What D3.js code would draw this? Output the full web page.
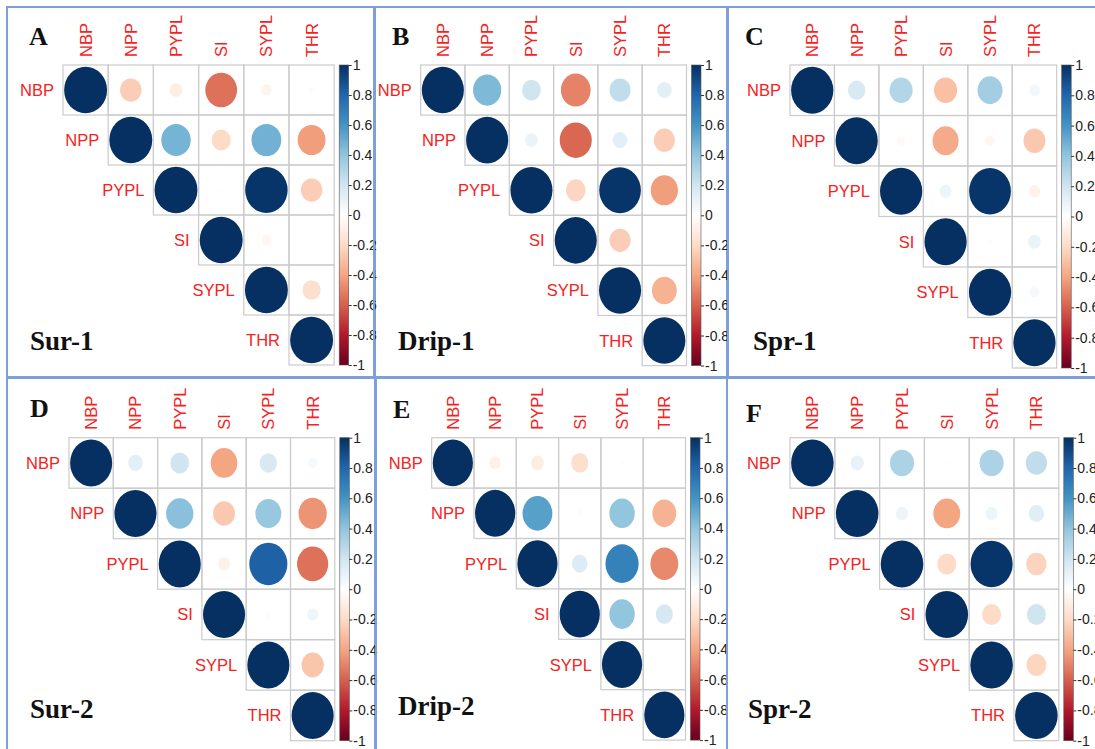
<!DOCTYPE html>
<meta charset="utf-8">
<title>Correlation panels</title>
<style>
body { margin: 0; background: #fff; }
svg { display: block; }
.lab { font-family: "Liberation Sans", Arial, sans-serif; font-size: 16.5px; fill: #f52222; }
.letter, .title { font-family: "Liberation Serif", "Times New Roman", serif; font-weight: bold; fill: #111; }
.letter { font-size: 26px; }
.title { font-size: 27px; }
.bar text { font-family: "Liberation Sans", Arial, sans-serif; font-size: 14px; fill: #222; }
.bar line { stroke: #333; }
</style>
<body>
<div id="chart"></div>
<script src="https://cdn.jsdelivr.net/npm/d3@7"></script>
<script>

// variables and colour legend ticks
var vars = ["NBP", "NPP", "PYPL", "SI", "SYPL", "THR"];
var legendTicks = [1, 0.8, 0.6, 0.4, 0.2, 0, -0.2, -0.4, -0.6, -0.8, -1];
var letters = ["A", "B", "C", "D", "E", "F"];
var titles = ["Sur-1", "Drip-1", "Spr-1", "Sur-2", "Drip-2", "Spr-2"];

// upper triangle, row by row:
// NBP-NPP, NBP-PYPL, NBP-SI, NBP-SYPL, NBP-THR, NPP-PYPL, NPP-SI, NPP-SYPL, NPP-THR,
// PYPL-SI, PYPL-SYPL, PYPL-THR, SI-SYPL, SI-THR, SYPL-THR
var sur1   = [-0.25, -0.09, -0.55, -0.06,  0.02,  0.47, -0.2,   0.48, -0.42, -0.01, 0.98, -0.25, -0.05, -0.01, -0.18];
var drip1  = [ 0.45,  0.2,  -0.5,   0.25,  0.12,  0.09, -0.58,  0.12, -0.25, -0.22, 0.98, -0.42, -0.25, -0.01, -0.35];
var spr1   = [ 0.17,  0.3,  -0.3,   0.35,  0.06, -0.04, -0.38, -0.05, -0.27,  0.08, 0.98, -0.07, -0.02,  0.09,  0.05];
var sur2   = [ 0.12,  0.2,  -0.4,   0.17,  0.05,  0.42, -0.27,  0.38, -0.45, -0.08, 0.82, -0.55,  0.02,  0.07, -0.28];
var drip2  = [-0.08, -0.1,  -0.18, -0.01,  0.01,  0.55, -0.02,  0.4,  -0.35,  0.15, 0.68, -0.48,  0.4,   0.18,  0.01];
var spr2   = [ 0.1,   0.32, -0.01,  0.32,  0.25,  0.08, -0.4,   0.08,  0.13, -0.2,  0.98, -0.23, -0.2,   0.2,  -0.22];
var series = [sur1, drip1, spr1, sur2, drip2, spr2];

var corrColors = ["#67001F", "#B2182B", "#D6604D", "#F4A582", "#FDDBC7", "#FFFFFF",
                  "#D1E5F0", "#92C5DE", "#4393C3", "#2166AC", "#053061"];

// panel geometry on the page
var layout = [
  {box: [7, 7, 368, 370],    gx: 63,    gy: 65,    cw: 45.2, ch: 50,   letter: [29, 45],   title: [30, 350]},
  {box: [374, 7, 353, 370],  gx: 420.7, gy: 65,    cw: 44.3, ch: 50.1, letter: [392, 45],  title: [398, 350]},
  {box: [728, 7, 380, 370],  gx: 790,   gy: 65,    cw: 44.45, ch: 50.5, letter: [745, 45], title: [753, 350]},
  {box: [7, 378, 368, 380],  gx: 69,    gy: 437.7, cw: 44.3, ch: 50.5, letter: [30, 417],  title: [30, 718]},
  {box: [376, 378, 351, 380], gx: 431.7, gy: 437.7, cw: 42.3, ch: 50.4, letter: [393, 418], title: [398, 715]},
  {box: [727, 378, 380, 380], gx: 790,   gy: 437.7, cw: 44.8, ch: 50.5, letter: [746, 422], title: [748, 718]}
];

var W = 1095, H = 749;
var svg = d3.select("#chart").append("svg").attr("width", W).attr("height", H);

var color = d3.scaleLinear()
  .domain(d3.range(11).map(function(i){ return -1 + i * 0.2; }))
  .range(corrColors);

var defs = svg.append("defs");
var grad = defs.append("linearGradient").attr("id", "cbar")
  .attr("x1", 0).attr("y1", 1).attr("x2", 0).attr("y2", 0);
grad.selectAll("stop").data(corrColors).join("stop")
  .attr("offset", function(d, i){ return i / 10; })
  .attr("stop-color", function(d){ return d; });

function toMatrix(vals){
  var cells = [], k = 0;
  vars.forEach(function(a, i){
    cells.push({row: a, col: a, r: 1});
    for (var j = i + 1; j < vars.length; j++) cells.push({row: a, col: vars[j], r: vals[k++]});
  });
  return cells;
}

layout.forEach(function(L, p){
  var g = svg.append("g");
  var n = vars.length;
  var x = d3.scaleBand().domain(vars).range([L.gx, L.gx + n * L.cw]);
  var y = d3.scaleBand().domain(vars).range([L.gy, L.gy + n * L.ch]);
  var rx = d3.scaleSqrt().domain([0, 1]).range([0, 0.475 * L.cw]);
  var ry = d3.scaleSqrt().domain([0, 1]).range([0, 0.465 * L.ch]);
  var cells = toMatrix(series[p]);

  g.append("rect")
    .attr("x", L.box[0]).attr("y", L.box[1]).attr("width", L.box[2]).attr("height", L.box[3])
    .attr("fill", "none").attr("stroke", "#7f9fda").attr("stroke-width", 2);

  g.selectAll("rect.cell").data(cells).join("rect").attr("class", "cell")
    .attr("x", function(d){ return x(d.col); })
    .attr("y", function(d){ return y(d.row); })
    .attr("width", x.bandwidth()).attr("height", y.bandwidth())
    .attr("fill", "none").attr("stroke", "#cbcbcb").attr("stroke-width", 1.2);

  g.selectAll("ellipse").data(cells).join("ellipse")
    .attr("cx", function(d){ return x(d.col) + x.bandwidth() / 2; })
    .attr("cy", function(d){ return y(d.row) + y.bandwidth() / 2; })
    .attr("rx", function(d){ return rx(Math.abs(d.r)); })
    .attr("ry", function(d){ return ry(Math.abs(d.r)); })
    .attr("fill", function(d){ return color(d.r); });

  // column labels, rotated
  g.selectAll("text.col").data(vars).join("text").attr("class", "lab col")
    .attr("transform", function(d){
      return "translate(" + (x(d) + x.bandwidth() / 2 + 6) + "," + (L.gy - 8) + ") rotate(-90)";
    })
    .text(function(d){ return d; });

  // row labels at the diagonal
  g.selectAll("text.row").data(vars).join("text").attr("class", "lab row")
    .attr("x", function(d){ return x(d) - 9; })
    .attr("y", function(d){ return y(d) + y.bandwidth() / 2 + 6; })
    .attr("text-anchor", "end")
    .text(function(d){ return d; });

  // colour bar
  var bx = L.gx + n * L.cw + 5, bw = 9.5;
  var by = d3.scaleLinear().domain([-1, 1]).range([L.gy + n * L.ch, L.gy]);
  g.append("rect")
    .attr("x", bx).attr("y", L.gy).attr("width", bw).attr("height", n * L.ch)
    .attr("fill", "url(#cbar)").attr("stroke", "#555").attr("stroke-width", 0.6);
  g.append("g").attr("class", "bar")
    .attr("transform", "translate(" + (bx + bw) + ",0)")
    .call(d3.axisRight(by).tickValues(legendTicks).tickSize(3).tickPadding(1)
      .tickFormat(function(d){ return String(+d.toFixed(1)); }))
    .call(function(a){ a.select(".domain").remove(); });

  g.append("text").attr("class", "letter")
    .attr("x", L.letter[0]).attr("y", L.letter[1]).text(letters[p]);
  g.append("text").attr("class", "title")
    .attr("x", L.title[0]).attr("y", L.title[1]).text(titles[p]);
});

</script>
</body>
